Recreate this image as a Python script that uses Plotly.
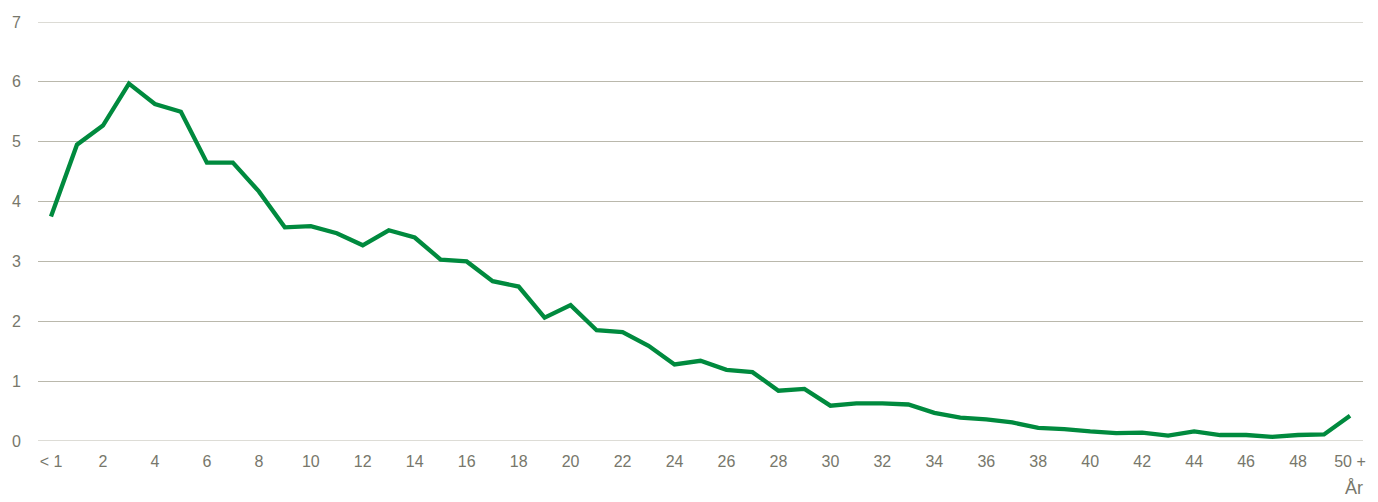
import plotly.graph_objects as go

categories = ["< 1"] + [str(i) for i in range(1, 50)] + ["50 +"]
values = [3.75, 4.95, 5.27, 5.97, 5.63, 5.50, 4.65, 4.65, 4.17, 3.57,
          3.59, 3.47, 3.27, 3.52, 3.40, 3.03, 3.00, 2.67, 2.58, 2.06,
          2.27, 1.85, 1.82, 1.59, 1.28, 1.34, 1.19, 1.15, 0.84, 0.87,
          0.59, 0.63, 0.63, 0.61, 0.47, 0.39, 0.36, 0.31, 0.22, 0.20,
          0.16, 0.13, 0.14, 0.09, 0.16, 0.10, 0.10, 0.07, 0.10, 0.11,
          0.42]
tick_labels = ["< 1"] + [str(i) for i in range(2, 50, 2)] + ["50 +"]
tick_vals = [categories[0]] + [str(i) for i in range(2, 50, 2)] + [categories[-1]]
y_ticks = list(range(0, 8))

text_color = "#77776b"
grid_color = "#bab8ac"
line_color = "#008a3e"
font_family = "Liberation Sans Narrow, Arial Narrow, Liberation Sans, sans-serif"

fig = go.Figure()
fig.add_trace(go.Scatter(
    x=categories, y=values, mode="lines",
    line=dict(color=line_color, width=4.3),
    hoverinfo="x+y",
))
fig.update_layout(
    width=1378, height=502,
    margin=dict(l=37, r=13, t=22, b=61),
    paper_bgcolor="white", plot_bgcolor="white",
    showlegend=False,
    font=dict(family=font_family, size=16, color=text_color),
    xaxis=dict(
        type="category", categoryorder="array", categoryarray=categories,
        range=[-0.5, len(categories) - 0.5],
        tickmode="array", tickvals=tick_vals, ticktext=tick_labels,
        showgrid=False, zeroline=False, showline=False,
        ticks="", ticklabelstandoff=9,
        tickfont=dict(family=font_family, size=16, color=text_color),
    ),
    yaxis=dict(
        range=[0, 7], tickmode="array", tickvals=y_ticks,
        showgrid=True, gridcolor=grid_color, gridwidth=1,
        zeroline=False, showline=False, ticks="",
        ticklabelstandoff=16,
        tickfont=dict(family=font_family, size=16, color=text_color),
    ),
    annotations=[dict(
        text="År", x=1.0, xref="paper", xanchor="right",
        y=0, yref="paper", yanchor="top", yshift=-35, xshift=2,
        showarrow=False, font=dict(family=font_family, size=18, color=text_color),
    )],
)
for yv in (0, 7):
    fig.add_hline(y=yv, line=dict(color=grid_color, width=1))
fig.write_html("out.html", config={"displayModeBar": False},
               post_script="document.body.style.margin='0';document.body.style.padding='0';")
